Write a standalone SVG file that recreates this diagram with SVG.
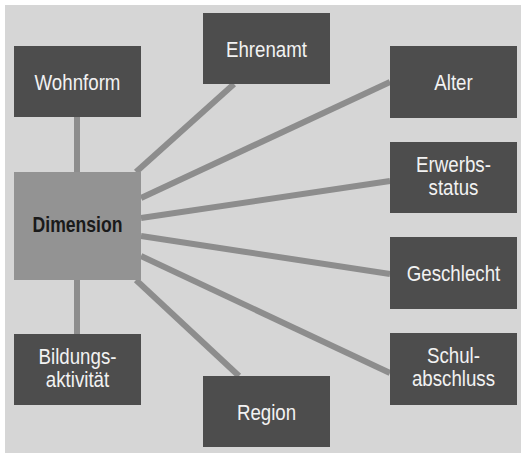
<svg xmlns="http://www.w3.org/2000/svg" width="521" height="453" viewBox="0 0 521 453">
<style>
.bg{fill:#d6d6d6}
.box{fill:#4d4d4d}
.dim{fill:#939393}
.lbl{font-family:"Liberation Sans",Arial,sans-serif;font-size:22px;fill:#f2f2f2;text-anchor:middle}
.bold{font-weight:bold;fill:#1a1a1a}
.con line{stroke:#8d8d8d;stroke-width:6}
</style>
<rect class="bg" x="5" y="5" width="516" height="448"/>
<g id="connectors" class="con">
<line x1="77" y1="117" x2="77" y2="172"/>
<line x1="77" y1="280" x2="77" y2="334"/>
<line x1="136" y1="172" x2="234" y2="84"/>
<line x1="141" y1="198" x2="390" y2="82"/>
<line x1="141" y1="218" x2="390" y2="181"/>
<line x1="141" y1="236" x2="390" y2="274"/>
<line x1="141" y1="256" x2="390" y2="373"/>
<line x1="136" y1="280" x2="239" y2="376"/>
</g>
<g id="dimension"><rect class="dim" x="14" y="172" width="127" height="108"/><text class="lbl bold" transform="matrix(0.8 0 0 1 77.5 232)">Dimension</text></g>
<g id="wohnform"><rect class="box" x="14" y="46" width="127" height="71"/><text class="lbl" transform="matrix(0.85 0 0 1 77.5 90)">Wohnform</text></g>
<g id="ehrenamt"><rect class="box" x="203" y="13" width="127" height="71"/><text class="lbl" transform="matrix(0.85 0 0 1 266.5 57)">Ehrenamt</text></g>
<g id="alter"><rect class="box" x="390" y="46" width="127" height="72"/><text class="lbl" transform="matrix(0.85 0 0 1 453.5 90)">Alter</text></g>
<g id="erwerbsstatus"><rect class="box" x="390" y="142" width="127" height="71"/><text class="lbl" transform="matrix(0.85 0 0 1 453.5 172)">Erwerbs-</text><text class="lbl" transform="matrix(0.85 0 0 1 453.5 195)">status</text></g>
<g id="geschlecht"><rect class="box" x="390" y="237" width="127" height="72"/><text class="lbl" transform="matrix(0.85 0 0 1 453.5 281)">Geschlecht</text></g>
<g id="schulabschluss"><rect class="box" x="390" y="333" width="127" height="72"/><text class="lbl" transform="matrix(0.85 0 0 1 453.5 363)">Schul-</text><text class="lbl" transform="matrix(0.85 0 0 1 453.5 386)">abschluss</text></g>
<g id="bildungsaktivitaet"><rect class="box" x="14" y="334" width="127" height="71"/><text class="lbl" transform="matrix(0.85 0 0 1 77.5 364)">Bildungs-</text><text class="lbl" transform="matrix(0.85 0 0 1 77.5 387)">aktivität</text></g>
<g id="region"><rect class="box" x="203" y="376" width="127" height="71"/><text class="lbl" transform="matrix(0.85 0 0 1 266.5 420)">Region</text></g>
</svg>
